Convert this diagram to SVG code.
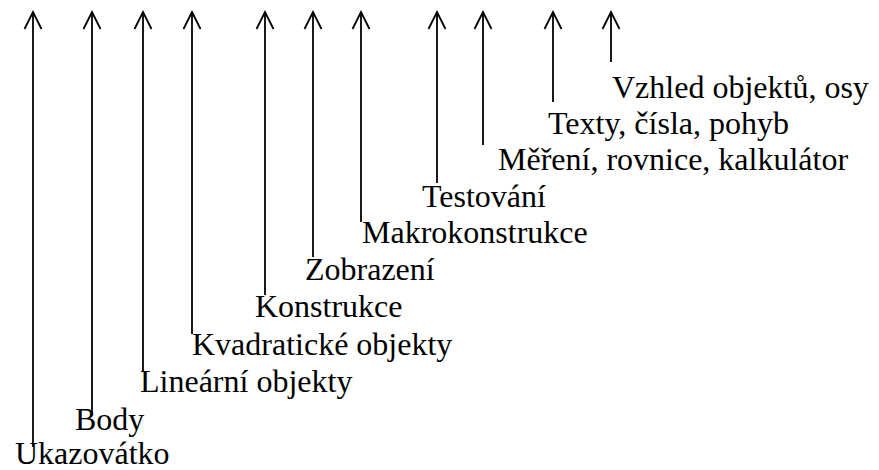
<svg xmlns="http://www.w3.org/2000/svg" width="879" height="470" viewBox="0 0 879 470">
<style>
.t{font-family:"Liberation Serif","Times New Roman",serif;font-size:32px;fill:#000}
.c line{stroke:#000;stroke-width:1.8;fill:none;marker-end:url(#ah)}
</style>
<defs>
<marker id="ah" markerUnits="userSpaceOnUse" markerWidth="26" markerHeight="26" viewBox="-22 -13 26 26" refX="0" refY="0" orient="auto">
<path d="M-17,-8.5 L0,0 L-17,8.5" fill="none" stroke="#000" stroke-width="1.8"/>
</marker>
</defs>
<rect width="879" height="470" fill="#fff"/>
<g id="connectors" class="c">
<line x1="33" y1="447" x2="33" y2="12"/>
<line x1="92" y1="412" x2="92" y2="12"/>
<line x1="143" y1="372" x2="143" y2="12"/>
<line x1="192" y1="334" x2="192" y2="12"/>
<line x1="265" y1="295" x2="265" y2="12"/>
<line x1="313" y1="257" x2="313" y2="12"/>
<line x1="361" y1="222" x2="361" y2="12"/>
<line x1="437" y1="183" x2="437" y2="12"/>
<line x1="483" y1="145" x2="483" y2="12"/>
<line x1="553" y1="102" x2="553" y2="12"/>
<line x1="611" y1="62" x2="611" y2="12"/>
</g>
<g class="t">
<g id="n-ukazovatko"><text x="15" y="464">Ukazovátko</text></g>
<g id="n-body"><text x="75" y="430">Body</text></g>
<g id="n-linearni"><text x="140" y="392">Lineární objekty</text></g>
<g id="n-kvadraticke"><text x="192" y="355">Kvadratické objekty</text></g>
<g id="n-konstrukce"><text x="255" y="317">Konstrukce</text></g>
<g id="n-zobrazeni"><text x="305" y="280">Zobrazení</text></g>
<g id="n-makrokonstrukce"><text x="362" y="243">Makrokonstrukce</text></g>
<g id="n-testovani"><text x="422" y="207">Testování</text></g>
<g id="n-mereni"><text x="498" y="170">Měření, rovnice, kalkulátor</text></g>
<g id="n-texty"><text x="548" y="134">Texty, čísla, pohyb</text></g>
<g id="n-vzhled"><text x="612" y="98">Vzhled objektů, osy</text></g>
</g>
</svg>
